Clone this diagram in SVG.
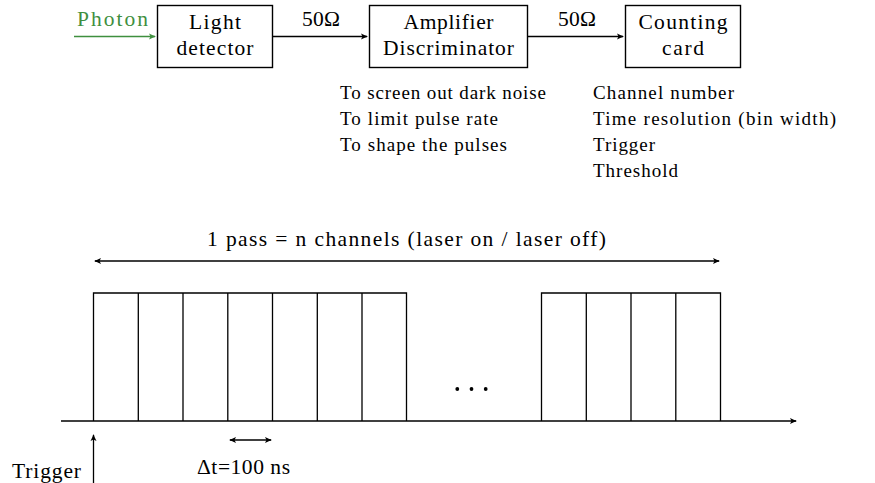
<svg xmlns="http://www.w3.org/2000/svg" width="875" height="483" viewBox="0 0 875 483">
<style>
text{font-family:'Liberation Serif','Times New Roman',serif;font-size:21.5px;fill:#000}
text.s{font-size:19px}
.box{fill:none;stroke:#000;stroke-width:1.4}
.ln{fill:none;stroke:#000;stroke-width:1.3}
.c{text-anchor:middle}
.green{fill:#3f8f3f}
</style>
<defs>
<marker id="ah" markerUnits="userSpaceOnUse" markerWidth="10" markerHeight="8" refX="0" refY="0" viewBox="-8 -4 10 8" orient="auto-start-reverse" overflow="visible">
<path d="M-6,-3 Q-2,-0.8 1,0 Q-2,0.8 -6,3 L-4.5,0 Z" fill="#000"/>
</marker>
<marker id="ahg" markerUnits="userSpaceOnUse" markerWidth="10" markerHeight="8" refX="0" refY="0" viewBox="-8 -4 10 8" orient="auto" overflow="visible">
<path d="M-6,-3 Q-2,-0.8 1,0 Q-2,0.8 -6,3 L-4.5,0 Z" fill="#3f8f3f"/>
</marker>
</defs>
<rect width="875" height="483" fill="#fff"/>

<g id="photon">
<text class="green" x="77" y="26" textLength="71">Photon</text>
</g>
<g id="light-detector">
<rect class="box" x="157.5" y="5.5" width="115" height="62"/>
<text class="c" x="215" y="29" textLength="52">Light</text>
<text class="c" x="215" y="55" textLength="77">detector</text>
</g>
<g id="amplifier">
<rect class="box" x="369.5" y="5.5" width="158" height="62"/>
<text class="c" x="448.5" y="29" textLength="90">Amplifier</text>
<text class="c" x="448.5" y="55" textLength="131">Discriminator</text>
<text class="s" x="340" y="99" textLength="206">To screen out dark noise</text>
<text class="s" x="340" y="125" textLength="158">To limit pulse rate</text>
<text class="s" x="340" y="151" textLength="167">To shape the pulses</text>
</g>
<g id="counting-card">
<rect class="box" x="625.5" y="5.5" width="115" height="62"/>
<text class="c" x="683" y="29" textLength="89">Counting</text>
<text class="c" x="683" y="55" textLength="42">card</text>
<text class="s" x="593" y="99" textLength="141">Channel number</text>
<text class="s" x="593" y="125" textLength="243">Time resolution (bin width)</text>
<text class="s" x="593" y="151" textLength="62">Trigger</text>
<text class="s" x="593" y="177" textLength="85">Threshold</text>
</g>

<g id="connectors">
<line x1="74" y1="36.5" x2="155" y2="36.5" stroke="#3f8f3f" stroke-width="1.3" marker-end="url(#ahg)"/>
<line class="ln" x1="273" y1="36.5" x2="367" y2="36.5" marker-end="url(#ah)"/>
<text class="c" x="321" y="26" textLength="38">50Ω</text>
<line class="ln" x1="528" y1="36.5" x2="623" y2="36.5" marker-end="url(#ah)"/>
<text class="c" x="577" y="26" textLength="38">50Ω</text>
</g>

<g id="timeline">
<text x="207" y="246" textLength="399">1 pass = n channels (laser on / laser off)</text>
<line class="ln" x1="95" y1="261" x2="719" y2="261" marker-start="url(#ah)" marker-end="url(#ah)"/>
<path class="ln" d="M93.5,421 V293 H406.5 V421 M138.3,293 V421 M183,293 V421 M227.8,293 V421 M272.5,293 V421 M317.3,293 V421 M362,293 V421"/>
<path class="ln" d="M541.5,421 V293 H720.5 V421 M586.3,293 V421 M631,293 V421 M675.8,293 V421"/>
<circle cx="457.3" cy="389" r="1.9"/>
<circle cx="471.5" cy="389" r="1.9"/>
<circle cx="485.7" cy="389" r="1.9"/>
<line class="ln" x1="61" y1="421" x2="796" y2="421" marker-end="url(#ah)"/>
<line class="ln" x1="93.5" y1="483" x2="93.5" y2="435" marker-end="url(#ah)"/>
<text x="12" y="478" textLength="69">Trigger</text>
<line class="ln" x1="230" y1="440" x2="271" y2="440" marker-start="url(#ah)" marker-end="url(#ah)"/>
<text x="197" y="474" textLength="93">Δt=100 ns</text>
</g>
</svg>
